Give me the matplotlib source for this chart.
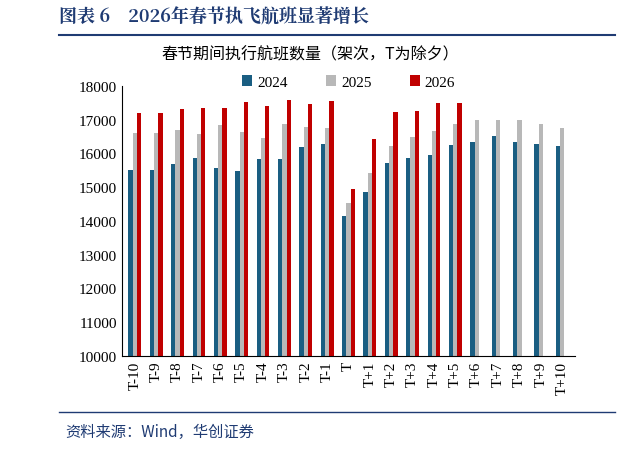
import matplotlib
matplotlib.use("Agg")
import matplotlib.pyplot as plt
import numpy as np

plt.rcParams['font.family'] = ['Noto Sans CJK SC', 'DejaVu Sans']

cats = ["T-10","T-9","T-8","T-7","T-6","T-5","T-4","T-3","T-2","T-1","T",
        "T+1","T+2","T+3","T+4","T+5","T+6","T+7","T+8","T+9","T+10"]
v2024 = [15520,15520,15700,15880,15560,15480,15840,15840,16200,16270,14150,
         14870,15710,15860,15950,16260,16330,16530,16350,16270,16220]
v2025 = [16600,16620,16690,16590,16840,16640,16460,16880,16780,16750,14520,
         15430,16230,16500,16660,16860,16990,16990,16990,16870,16760]
v2026 = [17200,17210,17330,17360,17360,17530,17410,17590,17470,17570,14940,
         16440,17240,17260,17490,17490]

fig = plt.figure(figsize=(6.21,4.52), dpi=100)
ax = fig.add_axes([122/621, 1-357/452, 453/621, 270/452])
x = np.arange(len(cats))
w = 0.2
serif = ['Liberation Serif', 'Noto Sans CJK SC']
ax.bar(x-w, v2024, w, color='#1a5e82', label='2024', bottom=0)
ax.bar(x, v2025, w, color='#b8b8b8', label='2025')
ax.bar(np.arange(len(v2026))+w, v2026, w, color='#c00000', label='2026')
ax.set_ylim(10000,18000)
ax.set_xlim(-0.6, len(cats)-0.4)
ax.set_yticks(range(10000,18001,1000))
ax.set_xticks(x)
ax.set_xticklabels(cats, rotation=90, family=serif, fontsize=11)
for t in ax.get_yticklabels():
    t.set_family(serif); t.set_fontsize(11)
for s in ['top','right']:
    ax.spines[s].set_visible(False)
ax.tick_params(axis='x', length=0)
ax.tick_params(axis='y', direction='in', length=0)
leg = ax.legend(loc='upper center', bbox_to_anchor=(0.5, 1.09), ncol=3, frameon=False,
                prop={'family': serif, 'size': 11}, handlelength=0.7, handleheight=0.7,
                columnspacing=2.5, handletextpad=0.3)
fig.text(0.5, 1-55/452, "春节期间执行航班数量（架次，T为除夕）", ha='center', va='center', fontsize=11.5)
fig.text(0.095, 1-18/452, "图表 6    2026年春节执飞航班显著增长", ha='left', va='center',
         fontsize=13, fontweight='bold', color='#1f3b73', family=['Noto Serif CJK SC','Noto Sans CJK SC'])
fig.add_artist(plt.Line2D([0.095, 0.99], [1-36/452]*2, color='#1f3b73', lw=1.5))
fig.add_artist(plt.Line2D([0.095, 0.99], [1-413/452]*2, color='#1f3b73', lw=1))
fig.text(0.105, 1-432/452, "资料来源：Wind，华创证券", ha='left', va='center', fontsize=11,
         style='italic', color='#1f3b73')
fig.savefig("out.png", dpi=100)
